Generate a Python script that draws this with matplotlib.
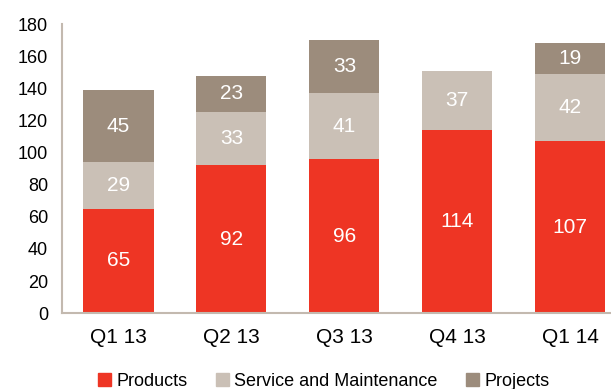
import matplotlib
matplotlib.use('Agg')
import matplotlib.pyplot as plt
from matplotlib.patches import Patch
import numpy as np

plt.rcParams['font.family'] = ['Liberation Sans', 'DejaVu Sans']

quarters = ['Q1 13', 'Q2 13', 'Q3 13', 'Q4 13', 'Q1 14']
products = [65, 92, 96, 114, 107]
service = [29, 33, 41, 37, 42]
projects = [45, 23, 33, 0, 19]

RED = '#EE3524'
LIGHT = '#CAC0B6'
DARK = '#9C8C7C'
AXIS = '#C3B9AF'

fig = plt.figure(figsize=(6.11, 3.89), dpi=100)
ax = fig.add_axes([0.1015, 0.195, 0.8985, 0.743])

x = np.arange(len(quarters))
w = 0.62
prod = np.array(products)
serv = np.array(service)
proj = np.array(projects)

ax.bar(x, prod, w, color=RED, zorder=2)
ax.bar(x, serv, w, bottom=prod, color=LIGHT, zorder=2)
ax.bar(x, proj, w, bottom=prod + serv, color=DARK, zorder=2)

# value labels centred in each segment
for i in range(len(x)):
    base = 0
    for vals in (prod, serv, proj):
        v = vals[i]
        if v > 0:
            ax.text(x[i], base + v / 2, str(v), ha='center', va='center',
                    color='white', fontsize=15)
        base += v

ax.set_xlim(-0.5, 4.36)
ax.set_ylim(0, 180)
ax.set_yticks(range(0, 181, 20))
ax.set_xticks(x)
ax.set_xticklabels(quarters, fontsize=15)
ax.tick_params(axis='y', labelsize=13, length=0, pad=10)
ax.tick_params(axis='x', length=0, pad=11)

for s in ('top', 'right'):
    ax.spines[s].set_visible(False)
for s in ('left', 'bottom'):
    ax.spines[s].set_color(AXIS)
    ax.spines[s].set_linewidth(1.5)

handles = [Patch(color=RED, label='Products'),
           Patch(color=LIGHT, label='Service and Maintenance'),
           Patch(color=DARK, label='Projects')]
fig.legend(handles=handles, loc='center', bbox_to_anchor=(0.53, 0.02),
           ncol=3, frameon=False, fontsize=13, handlelength=0.7,
           handleheight=0.7, handletextpad=0.3, columnspacing=1.6)

fig.savefig('out.png', dpi=100)
